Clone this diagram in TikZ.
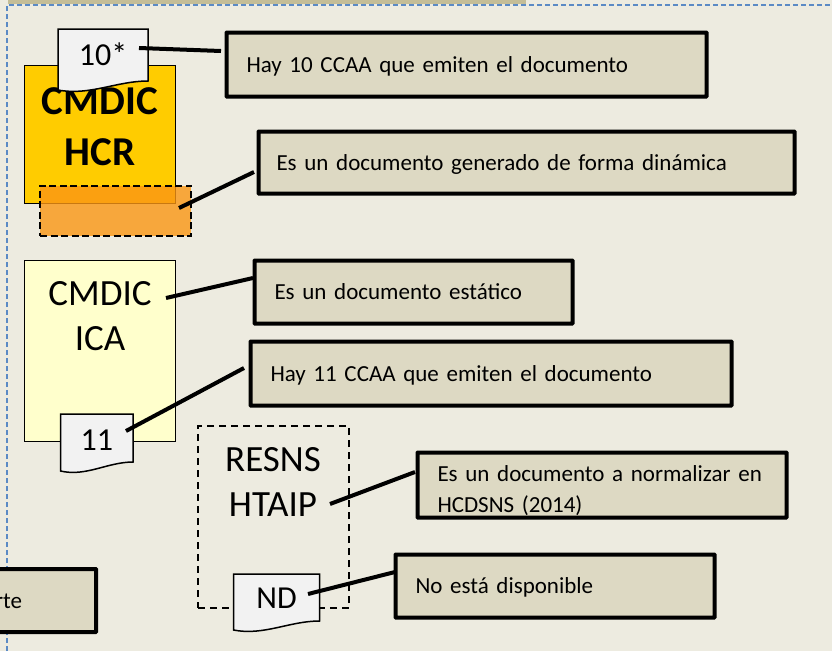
\documentclass[tikz,border=0pt]{standalone}
\usepackage{fontspec}
\setmainfont{Carlito}
\usepackage{xcolor}
\usetikzlibrary{positioning,arrows.meta}

\definecolor{fondo}{HTML}{EDEBE0}
\definecolor{tostado}{HTML}{C4BD97}
\definecolor{caja}{HTML}{DDD9C3}
\definecolor{azul}{HTML}{5B8AC5}
\definecolor{hoja}{HTML}{F2F2F2}
\definecolor{oro}{HTML}{FFCC00}
\definecolor{crema}{HTML}{FFFFCC}
\definecolor{naranja}{HTML}{FA9614}

% document shape with a wavy foot
\newcommand{\hojadoc}[8]{
  \draw[line width=1.5pt,fill=hoja] (#2,#3) -- (#4,#3) -- (#4,#6)
    .. controls (#4-0.35*#4+0.35*#2,#6) and (#2+0.35*#4-0.35*#2,#5+6) .. (#2,#5) -- cycle;
  \node[cifra] (#1) at ({(#2+#4)/2},#8) {#7};
}

\begin{document}
\begin{tikzpicture}[x=1pt,y=-1pt,outer sep=0pt]
  \tikzstyle{nota}=[draw,fill=caja,line width=4pt,rounded corners=0.5pt,anchor=north west,align=left,
    inner ysep=0pt,inner xsep=20pt,text height=15pt,text depth=0pt,font=\fontsize{23}{31}\selectfont]
  \tikzstyle{ficha}=[draw,line width=1pt,anchor=north west,minimum width=151pt,align=center,inner sep=0pt]
  \tikzstyle{cifra}=[font=\fontsize{32}{36}\selectfont]
  \tikzstyle{guia}=[line width=4pt]

  \clip (0,0) rectangle (832,651);
  \fill[fondo] (0,0) rectangle (832,651);

  % band and dashed frame
  \fill[tostado] (8,0) rectangle (526,4);
  \draw[azul,line width=1.2pt,dash pattern=on 5pt off 3pt] (7,651) -- (7,5) -- (832,5);

  % documents
  \node[ficha,fill=oro,minimum height=138pt] (hcr) at (24,65) {};
  \node[font=\fontsize{41}{51}\bfseries\selectfont,align=center] (hcrtxt) at (100,127) {CMDIC\\HCR};
  \node[draw,line width=2pt,dash pattern=on 7pt off 3.5pt,fill=naranja,fill opacity=0.8,anchor=north west,minimum width=151pt,minimum height=50pt] (din) at (40,185.5) {};
  \hojadoc{d10}{58}{29}{148}{90}{81}{10*}{54}

  \node[ficha,fill=crema,minimum height=181pt] (ica) at (24,260) {};
  \node[font=\fontsize{37}{45}\selectfont,align=center] (icatxt) at (100,316) {CMDIC\\ICA};
  \hojadoc{d11}{60.5}{414}{133}{471}{462}{11}{440}

  \node[draw,line width=1.5pt,dash pattern=on 7pt off 5pt,anchor=north west,minimum width=151pt,minimum height=182pt] (res) at (198,426) {};
  \node[font=\fontsize{37}{45}\selectfont,align=center] (restxt) at (273,482) {RESNS\\HTAIP};
  \hojadoc{dnd}{233.5}{574}{319.5}{630}{621}{ND}{598}

  % notes
  \node[nota,minimum width=480pt,minimum height=64pt,text width=440pt] (n1) at (226.5,32.5) {Hay 10 CCAA que emiten el documento};
  \node[nota,minimum width=536pt,minimum height=62pt,text width=500pt,inner xsep=18pt] (n2) at (258.5,131.5) {Es un documento generado de forma dinámica};
  \node[nota,minimum width=318pt,minimum height=63pt,text width=278pt] (n3) at (254.5,260.5) {Es un documento estático};
  \node[nota,minimum width=481pt,minimum height=64pt,text width=441pt] (n4) at (250.5,341.5) {Hay 11 CCAA que emiten el documento};
  \node[nota,minimum width=369pt,minimum height=65pt,text width=329pt,text depth=23pt] (n5) at (417.5,452.5) {Es un documento a normalizar en\\HCDSNS (2014)};
  \node[nota,minimum width=319pt,minimum height=63pt,text width=279pt] (n6) at (395.5,554.5) {No está disponible};
  \node[nota,minimum width=121pt,minimum height=63pt,text width=81pt] (n7) at (-25,569) {rte};

  % connectors
  \coordinate (c1a) at (139,48);  \coordinate (c1b) at (221,51);
  \coordinate (c2a) at (179,208); \coordinate (c2b) at (254,172);
  \coordinate (c3a) at (166,298); \coordinate (c3b) at (253,278);
  \coordinate (c4a) at (126,431); \coordinate (c4b) at (244,368);
  \coordinate (c5a) at (330,504); \coordinate (c5b) at (415,472);
  \coordinate (c6a) at (308,594); \coordinate (c6b) at (395,572);
  \draw[guia] (c1a) -- (c1b);
  \draw[guia] (c2a) -- (c2b);
  \draw[guia] (c3a) -- (c3b);
  \draw[guia] (c4a) -- (c4b);
  \draw[guia] (c5a) -- (c5b);
  \draw[guia] (c6a) -- (c6b);
\end{tikzpicture}
\end{document}
